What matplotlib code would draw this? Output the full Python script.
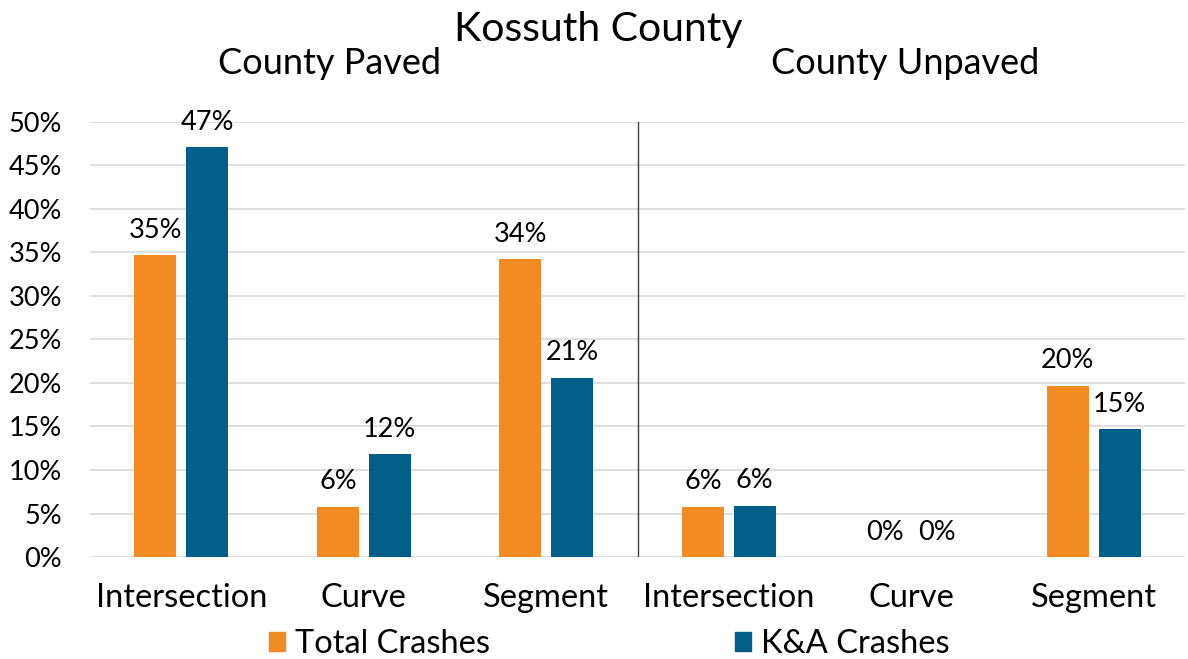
import matplotlib
matplotlib.use("Agg")
import matplotlib.pyplot as plt
from matplotlib.patches import Patch

categories = ["Intersection", "Curve", "Segment", "Intersection", "Curve", "Segment"]
groups = ["County Paved", "County Unpaved"]
total_crashes = [34.7, 5.8, 34.2, 5.8, 0.0, 19.7]
ka_crashes = [47.1, 11.8, 20.6, 5.9, 0.0, 14.7]
total_labels = ["35%", "6%", "34%", "6%", "0%", "20%"]
ka_labels = ["47%", "12%", "21%", "6%", "0%", "15%"]
yticks = [0, 5, 10, 15, 20, 25, 30, 35, 40, 45, 50]
series_names = ["Total Crashes", "K&A Crashes"]

ORANGE = "#F28C22"
BLUE = "#005E88"
FONT = ["Lato", "DejaVu Sans"]
plt.rcParams["font.family"] = FONT

fig = plt.figure(figsize=(11.88, 6.59), dpi=100)
ax = fig.add_axes([90/1188, 1-557/659, (1185-90)/1188, (557-122)/659])

x = list(range(len(categories)))
w = 0.23
off = 0.142
xt = [i - off for i in x]
xk = [i + off for i in x]
ax.bar(xt, total_crashes, width=w, color=ORANGE, zorder=3)
ax.bar(xk, ka_crashes, width=w, color=BLUE, zorder=3)

for xi, v, lab in zip(xt, total_crashes, total_labels):
    ax.annotate(lab, (xi, v), xytext=(0, 9), textcoords="offset points",
                ha="center", va="bottom", fontsize=19.5, color="black")
for xi, v, lab in zip(xk, ka_crashes, ka_labels):
    ax.annotate(lab, (xi, v), xytext=(0, 9), textcoords="offset points",
                ha="center", va="bottom", fontsize=19.5, color="black")

ax.set_xlim(-0.5, len(categories) - 0.5)
ax.set_ylim(0, 50)
ax.set_yticks(yticks)
ax.set_yticklabels([f"{t}%" for t in yticks], fontsize=19.5)
ax.set_xticks(x)
ax.set_xticklabels(categories, fontsize=23.5)
ax.tick_params(axis="both", length=0)
ax.tick_params(axis="x", pad=19)
ax.tick_params(axis="y", pad=20)

ax.grid(axis="y", color="#D9D9D9", linewidth=1.2, zorder=0)
for s in ax.spines.values():
    s.set_visible(False)
ax.axvline(2.5, color="#404040", linewidth=1.0, zorder=4)

fig.text(598/1188, 1-30/659, "Kossuth County", ha="center", va="center", fontsize=29.5)
fig.text(329/1188, 1-64/659, groups[0], ha="center", va="center", fontsize=26)
fig.text(905/1188, 1-64/659, groups[1], ha="center", va="center", fontsize=26)

handles = [Patch(color=ORANGE), Patch(color=BLUE)]
fig.legend(handles, series_names, loc="center", bbox_to_anchor=(609/1188, 1-644/659),
           ncol=2, frameon=False, fontsize=23.5, handlelength=0.5, handleheight=0.5,
           handletextpad=0.3, columnspacing=7.5)

fig.savefig("out.png", dpi=100)
